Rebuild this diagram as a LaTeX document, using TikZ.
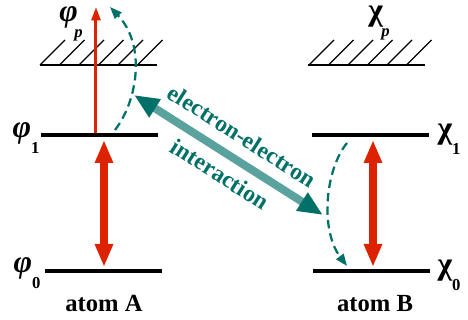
\documentclass[tikz,border=0pt]{standalone}
\usepackage{fontspec}
\setmainfont{Liberation Serif}
\usetikzlibrary{arrows.meta}
\definecolor{lvred}{RGB}{221,34,0}
\definecolor{lvteal}{RGB}{0,112,104}
\tikzset{
  level/.style={line width=0.08cm, black},
  baseline/.style={line width=0.05cm, black},
  hatch/.style={line width=0.022cm, black},
  bigred/.style={line width=0.16cm, lvred, {Triangle[length=0.46cm,width=0.34cm]}-{Triangle[length=0.46cm,width=0.34cm]}},
  thinred/.style={line width=0.06cm, lvred, -{Triangle[length=0.27cm,width=0.18cm]}},
  tealdash/.style={line width=0.045cm, lvteal, dash pattern=on 0.17cm off 0.1cm, -{Triangle[length=0.24cm,width=0.18cm]}},
  interarrow/.style={line width=0.16cm, lvteal!65, {Triangle[length=0.5cm,width=0.4cm,color=lvteal]}-{Triangle[length=0.5cm,width=0.4cm,color=lvteal]}},
  atomlab/.style={font=\fontsize{14}{16}\selectfont\bfseries},
  greek/.style={font=\fontsize{18}{20}\selectfont\bfseries, inner sep=0pt},
  tealtext/.style={font=\fontsize{13.5}{15}\selectfont\bfseries, text=lvteal, rotate=-32.5, inner sep=0pt}
}
\newcommand{\sublab}[1]{\raisebox{-0.5em}{\fontsize{9.5}{11}\selectfont #1}}
\newcommand{\bphi}{{\itshape φ}}
\begin{document}
\begin{tikzpicture}[x=0.02cm,y=-0.02cm]
\useasboundingbox (0,0) rectangle (468,320);
% --- atom A ---
\coordinate (Ap1) at (40,65);  \coordinate (Ap2) at (157,65);
\coordinate (A11) at (41,135); \coordinate (A12) at (158,135);
\coordinate (A01) at (45,271); \coordinate (A02) at (162,271);
\draw[baseline] (Ap1) -- (Ap2);
\foreach \i in {0,...,5}{
  \draw[hatch] (40+19.5*\i,65) -- (65+19.5*\i,40);
}
\draw[level] (A11) -- (A12);
\draw[level] (A01) -- (A02);
% --- atom B ---
\coordinate (Bp1) at (308,65); \coordinate (Bp2) at (425,65);
\coordinate (B11) at (312,135); \coordinate (B12) at (429,135);
\coordinate (B01) at (313,271); \coordinate (B02) at (430,271);
\draw[baseline] (Bp1) -- (Bp2);
\foreach \i in {0,...,5}{
  \draw[hatch] (309+19.5*\i,65) -- (334+19.5*\i,40);
}
\draw[level] (B11) -- (B12);
\draw[level] (B01) -- (B02);
% --- labels ---
\node[greek] (phip) at (71,24) {\bphi\kern-2pt\sublab{\itshape p}};
\node[greek] (phi1) at (26,138) {\bphi\sublab{1}};
\node[greek] (phi0) at (27,273) {\bphi\sublab{0}};
\node[greek] (chip) at (379,23) {χ\kern-1pt\sublab{\itshape p}};
\node[greek] (chi1) at (449,139) {χ\sublab{1}};
\node[greek] (chi0) at (449,275) {χ\sublab{0}};
\node[atomlab] (atomA) at (104,304) {atom A};
\node[atomlab] (atomB) at (375,304) {atom B};
% --- red arrows ---
\coordinate (rA1) at (104,140); \coordinate (rA0) at (104,267);
\coordinate (rB1) at (373,140); \coordinate (rB0) at (373,267);
\draw[bigred] (rA1) -- (rA0);
\draw[bigred] (rB1) -- (rB0);
\coordinate (tA0) at (96,133); \coordinate (tA1) at (96,7);
\draw[thinred] (tA0) -- (tA1);
% --- teal dashed curves ---
\coordinate (dA0) at (115,130); \coordinate (dA1) at (110,7);
\draw[tealdash] (dA0) .. controls (138,100) and (146,45) .. (dA1);
\coordinate (dB0) at (347,143); \coordinate (dB1) at (347,266);
\draw[tealdash] (dB0) .. controls (325,170) and (320,230) .. (dB1);
% --- interaction arrow ---
\coordinate (iA) at (134,95); \coordinate (iB) at (323,215);
\draw[interarrow] (iA) -- (iB);
\node[tealtext] (ee) at (242,136) {electron-electron};
\node[tealtext] (int) at (220,174) {interaction};
\end{tikzpicture}
\end{document}
